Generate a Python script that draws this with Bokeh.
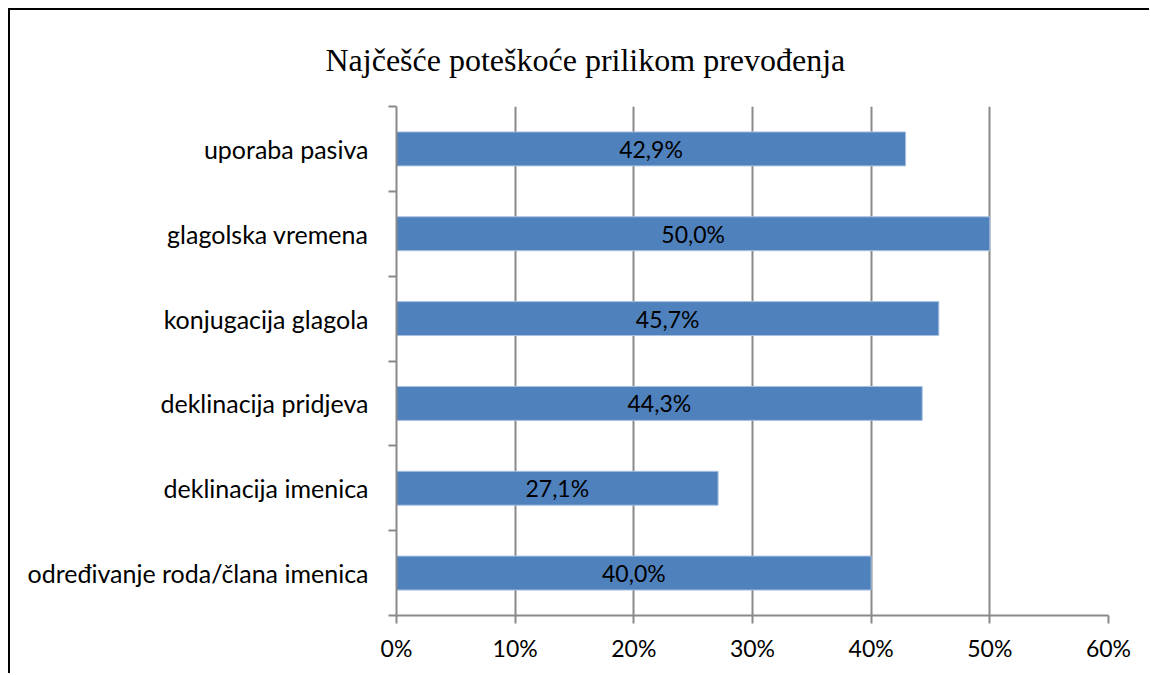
from bokeh.plotting import figure
from bokeh.models import FixedTicker, NumeralTickFormatter, ColumnDataSource, Range1d, LabelSet
from bokeh.core.properties import value
from bokeh.embed import file_html
from bokeh.resources import INLINE

title = "Najčešće poteškoće prilikom prevođenja"
categories = [
    "određivanje roda/člana imenica",
    "deklinacija imenica",
    "deklinacija pridjeva",
    "konjugacija glagola",
    "glagolska vremena",
    "uporaba pasiva",
]
values = [0.400, 0.271, 0.443, 0.457, 0.500, 0.429]
x_ticks = [0.0, 0.1, 0.2, 0.3, 0.4, 0.5, 0.6]

GRID = "#898989"
BAR = "#4F81BD"

pos = [i + 0.5 for i in range(len(categories))]
labels = [f"{v*100:.1f}%".replace(".", ",") for v in values]
src = ColumnDataSource(dict(y=pos, v=values, mid=[v / 2 for v in values], lab=labels))

p = figure(width=1141, height=665, output_backend="svg", toolbar_location=None,
           x_range=Range1d(0, 0.6), y_range=Range1d(0, len(categories)),
           min_border_left=386, min_border_top=90, min_border_right=43, min_border_bottom=60)
p.styles = {"border-left": "2px solid black", "border-top": "2px solid black",
            "margin-left": "8px", "margin-top": "8px"}
p.outline_line_color = None
p.background_fill_color = "white"

p.title.text = title
p.title.text_font = "Liberation Serif"
p.title.text_font_size = "32px"
p.title.text_font_style = "normal"
p.title.text_color = "black"
p.title.align = "left"
p.title.offset = -71
p.title.standoff = 58

p.hbar(y="y", right="v", left=0, height=0.4, source=src,
       fill_color=BAR, line_color="#a9c0df", line_width=1)

p.add_layout(LabelSet(x="mid", y="y", text="lab", source=src, text_align="center",
                      text_baseline="middle", text_font=value("Lato"), text_font_size="23px",
                      text_color="black"))

# grid
p.ygrid.visible = False
p.xgrid.ticker = FixedTicker(ticks=x_ticks)
p.xgrid.grid_line_color = GRID
p.xgrid.grid_line_width = 2

# x axis
xa = p.xaxis[0]
xa.ticker = FixedTicker(ticks=x_ticks)
xa.formatter = NumeralTickFormatter(format="0%")
xa.axis_line_color = GRID
xa.axis_line_width = 2
xa.major_tick_line_color = GRID
xa.major_tick_line_width = 2
xa.major_tick_out = 8
xa.major_tick_in = 0
xa.minor_tick_line_color = None
xa.major_label_text_font = "Lato"
xa.major_label_text_font_size = "23px"
xa.major_label_text_color = "black"
xa.major_label_standoff = 10

# y axis
ya = p.yaxis[0]
ya.ticker = FixedTicker(ticks=pos, minor_ticks=list(range(len(categories) + 1)))
ya.major_label_overrides = {pv: c for pv, c in zip(pos, categories)}
ya.axis_line_color = GRID
ya.axis_line_width = 2
ya.major_tick_line_color = None
ya.major_tick_out = 0
ya.major_tick_in = 0
ya.minor_tick_line_color = GRID
ya.minor_tick_line_width = 2
ya.minor_tick_out = 8
ya.minor_tick_in = 0
ya.major_label_text_font = "Lato"
ya.major_label_text_font_size = "25px"
ya.major_label_text_color = "black"
ya.major_label_standoff = 20

open("out.html", "w").write(file_html(p, INLINE))
